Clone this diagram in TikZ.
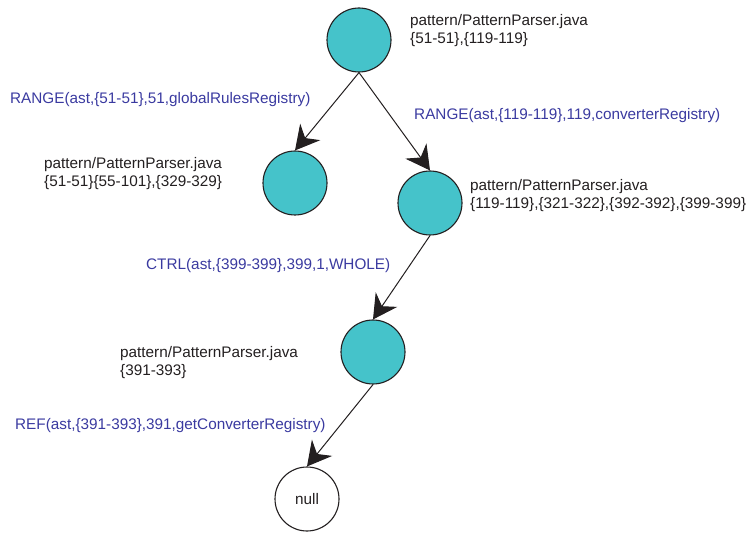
\documentclass[tikz,border=0pt]{standalone}
\usepackage{fontspec}
\setmainfont{Liberation Sans}
\usetikzlibrary{arrows.meta}
\definecolor{nodefill}{RGB}{69,195,202}
\definecolor{callblue}{RGB}{58,58,160}
\definecolor{inkgray}{RGB}{35,31,32}

\begin{document}
\begin{tikzpicture}[x=1pt,y=-1pt,
	state/.style={circle,draw=inkgray,line width=1.1pt,fill=nodefill,minimum size=64pt,inner sep=0pt},
	nullstate/.style={state,fill=white,font=\fontsize{15.3}{18}\selectfont,text=inkgray},
	info/.style={anchor=west,align=left,inner sep=0pt,text=inkgray,font=\fontsize{15.3}{18}\selectfont},
	call/.style={anchor=west,inner sep=0pt,text=callblue,font=\fontsize{15.3}{18}\selectfont},
	link/.style={line width=1pt,draw=inkgray,-{Stealth[length=24pt,width=26pt,inset=8pt]}}]
	\useasboundingbox (0,0) rectangle (755,534);
	%States
	\node [state] (root) at (359,40) {};
	\node [state] (left) at (295,183) {};
	\node [state] (right) at (430,203) {};
	\node [state] (ctrl) at (373,352) {};
	\node [nullstate] (null) at (307,499) {null};
	%File and ranges
	\node [info] (rootinfo) at (410,31) {pattern/PatternParser.java\\\{51-51\},\{119-119\}};
	\node [info] (leftinfo) at (44,174) {pattern/PatternParser.java\\\{51-51\}\{55-101\},\{329-329\}};
	\node [info] (rightinfo) at (470,196) {pattern/PatternParser.java\\\{119-119\},\{321-322\},\{392-392\},\{399-399\}};
	\node [info] (ctrlinfo) at (120,363) {pattern/PatternParser.java\\\{391-393\}};
	%Calls
	\node [call] (rangeleft) at (10,100) {RANGE(ast,\{51-51\},51,globalRulesRegistry)};
	\node [call] (rangeright) at (414,116) {RANGE(ast,\{119-119\},119,converterRegistry)};
	\node [call] (ctrlcall) at (146,266) {CTRL(ast,\{399-399\},399,1,WHOLE)};
	\node [call] (refcall) at (15,426) {REF(ast,\{391-393\},391,getConverterRegistry)};
	%Arrows
	\draw [link] (root.south) to (left.north);
	\draw [link] (root.south) to (right.north);
	\draw [link] (right.south) to (ctrl.north);
	\draw [link] (ctrl.south) to (null.north);
\end{tikzpicture}
\end{document}
